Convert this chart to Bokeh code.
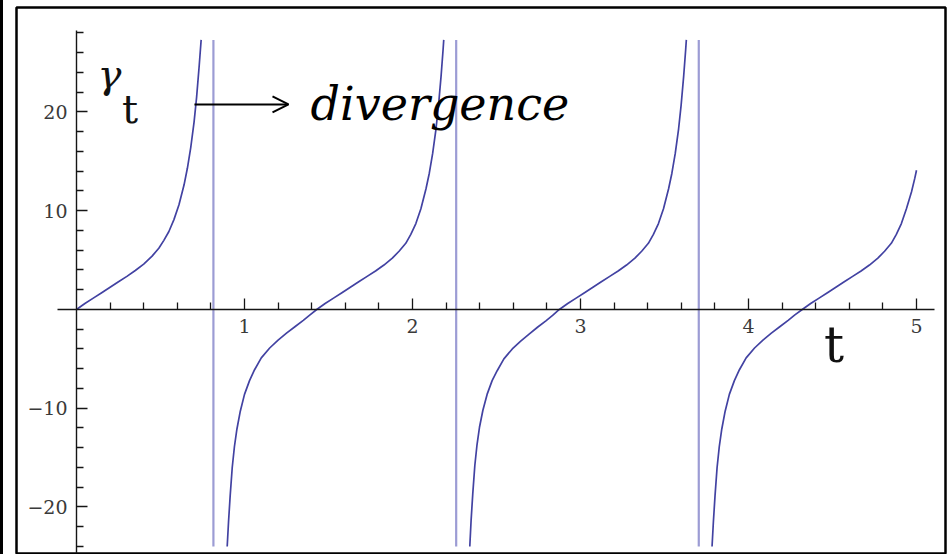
from bokeh.plotting import figure
from bokeh.models import Range1d, FixedTicker, Label, Arrow, OpenHead, Div
from bokeh.layouts import row
from bokeh.embed import file_html
from bokeh.resources import INLINE

# gamma_t sampled along each branch (t, value)
t_branch1 = [0.00, 0.05, 0.10, 0.15, 0.20, 0.25, 0.30, 0.35, 0.40, 0.45, 0.49,
             0.52, 0.55, 0.58, 0.61, 0.64, 0.66, 0.68, 0.70, 0.715, 0.73, 0.738,
             0.742]
g_branch1 = [0.0, 0.6, 1.15, 1.7, 2.25, 2.8, 3.35, 3.95, 4.6, 5.4, 6.2,
             7.0, 7.9, 9.1, 10.6, 12.6, 14.3, 16.4, 19.0, 21.5, 24.6, 26.4,
             27.3]

t_branch2 = [0.897, 0.905, 0.915, 0.927, 0.94, 0.955, 0.975, 1.00, 1.03, 1.06,
             1.10, 1.15, 1.20, 1.25, 1.30, 1.35, 1.39, 1.43, 1.48, 1.53,
             1.58, 1.63, 1.68, 1.73, 1.78, 1.83, 1.88, 1.92, 1.96, 1.99,
             2.02, 2.05, 2.08, 2.10, 2.12, 2.14, 2.155, 2.17, 2.182, 2.186]
g_branch2 = [-24.0, -21.5, -18.8, -16.0, -13.9, -12.1, -10.3, -8.6, -7.2, -6.1,
             -4.9, -3.9, -3.1, -2.4, -1.75, -1.1, -0.55, 0.0, 0.6, 1.15,
             1.7, 2.25, 2.8, 3.35, 3.9, 4.5, 5.2, 5.9, 6.7, 7.6,
             8.7, 10.2, 12.2, 13.8, 15.8, 18.3, 20.7, 23.6, 26.3, 27.3]

t_branch3 = [2.341, 2.349, 2.359, 2.371, 2.384, 2.399, 2.419, 2.444, 2.474, 2.504,
             2.544, 2.594, 2.644, 2.694, 2.744, 2.794, 2.834, 2.874, 2.924, 2.974,
             3.024, 3.074, 3.124, 3.174, 3.224, 3.274, 3.324, 3.364, 3.404, 3.434,
             3.464, 3.494, 3.524, 3.544, 3.564, 3.584, 3.599, 3.614, 3.626, 3.630]
g_branch3 = [-24.0, -21.3, -18.6, -15.8, -13.7, -11.9, -10.2, -8.6, -7.2, -6.2,
             -5.0, -4.0, -3.2, -2.5, -1.8, -1.15, -0.6, 0.0, 0.6, 1.15,
             1.7, 2.25, 2.8, 3.35, 3.9, 4.5, 5.2, 5.9, 6.7, 7.6,
             8.7, 10.2, 12.2, 13.8, 15.8, 18.3, 20.7, 23.6, 26.3, 27.3]

t_branch4 = [3.783, 3.791, 3.801, 3.813, 3.826, 3.841, 3.861, 3.886, 3.916, 3.946,
             3.986, 4.036, 4.086, 4.136, 4.186, 4.236, 4.276, 4.320, 4.370, 4.420,
             4.470, 4.520, 4.570, 4.620, 4.670, 4.720, 4.770, 4.810, 4.850, 4.880,
             4.910, 4.940, 4.970, 4.990, 5.0]
g_branch4 = [-24.0, -21.5, -18.8, -16.0, -13.9, -12.1, -10.3, -8.6, -7.2, -6.1,
             -4.9, -3.9, -3.1, -2.4, -1.75, -1.1, -0.55, 0.0, 0.6, 1.15,
             1.7, 2.25, 2.8, 3.35, 3.9, 4.5, 5.2, 5.9, 6.7, 7.6,
             8.7, 10.2, 11.9, 13.3, 14.1]

# poles of gamma_t and the clipping range of the plot
asymptote_t = [0.815, 2.26, 3.704]
clip_low = -24.0
clip_high = 27.3

# axis ticks
x_ticks = [1, 2, 3, 4, 5]
x_minor = [round(0.2 * k, 1) for k in range(1, 26) if k % 5]
y_ticks = [-20, -10, 10, 20]
y_minor = [v for v in range(-24, 29, 2) if v % 10]

CURVE = "#4242a2"
POLE = "#9c9cd4"
AXIS = "#151515"
SERIF = "DejaVu Serif"

p = figure(width=949, height=554, output_backend="svg", toolbar_location=None,
           x_range=Range1d(-0.3571, 5.1726), y_range=Range1d(-24.71, 30.58),
           min_border_left=13, min_border_right=7, min_border_top=7,
           min_border_bottom=1, background_fill_color="white",
           border_fill_color="white")
p.grid.visible = False
p.outline_line_color = "black"
p.outline_line_width = 2.5

# axes crossing at the origin
xa = p.xaxis[0]
xa.fixed_location = 0
xa.bounds = (-0.113, 5.107)
xa.ticker = FixedTicker(ticks=x_ticks, minor_ticks=x_minor)
ya = p.yaxis[0]
ya.fixed_location = 0
ya.bounds = (-24.71, 28.3)
ya.ticker = FixedTicker(ticks=y_ticks, minor_ticks=y_minor)
for ax in (xa, ya):
    ax.axis_line_color = AXIS
    ax.axis_line_width = 1.4
    ax.major_tick_line_color = AXIS
    ax.minor_tick_line_color = AXIS
    ax.major_tick_line_width = 1.3
    ax.minor_tick_line_width = 1.3
    ax.major_tick_in = 11
    ax.major_tick_out = 0
    ax.minor_tick_in = 7
    ax.minor_tick_out = 0
    ax.major_label_text_font = SERIF
    ax.major_label_text_font_size = "19px"
    ax.major_label_text_color = "#3a3a3a"
xa.major_label_standoff = 10
ya.major_label_standoff = 9

# pole markers and the curve
p.segment(x0=asymptote_t, y0=[clip_low] * len(asymptote_t),
          x1=asymptote_t, y1=[clip_high] * len(asymptote_t),
          line_color=POLE, line_width=2.2)
for tt, gg in ((t_branch1, g_branch1), (t_branch2, g_branch2),
               (t_branch3, g_branch3), (t_branch4, g_branch4)):
    p.line(tt, gg, line_color=CURVE, line_width=1.7)

# labels
p.add_layout(Label(x=0.125, y=23.8, text="γ", text_font=SERIF,
                   text_font_style="italic", text_font_size="40px",
                   text_align="left", text_baseline="alphabetic",
                   text_color="#111111"))
p.add_layout(Label(x=0.318, y=20.26, text="t", text_font=SERIF,
                   text_font_size="40px", text_align="center",
                   text_baseline="alphabetic", text_color="#111111"))
p.add_layout(Label(x=4.509, y=-3.55, text="t", text_font=SERIF,
                   text_font_size="50px", text_align="center",
                   text_baseline="alphabetic", text_color="#111111"))
p.add_layout(Label(x=1.393, y=20.76, text="divergence", text_font=SERIF,
                   text_font_style="italic", text_font_size="46px",
                   text_align="left", text_baseline="alphabetic",
                   text_color="#000000"))
p.add_layout(Arrow(x_start=0.702, y_start=20.76, x_end=1.262, y_end=20.76,
                   line_color="black", line_width=2,
                   end=OpenHead(size=16, line_color="black", line_width=2)))

strip = Div(width=3, height=554, margin=0,
            styles={"background-color": "black"})
layout = row(strip, p, spacing=0)

open("out.html", "w").write(file_html(layout, INLINE))
